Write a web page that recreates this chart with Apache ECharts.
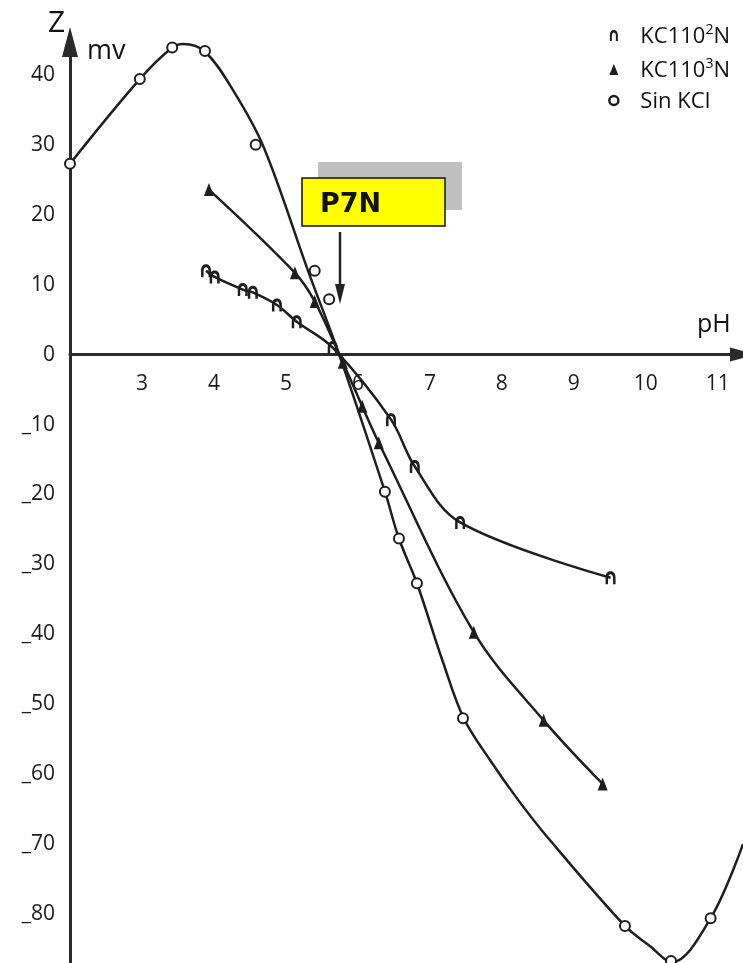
<!DOCTYPE html>
<html>
<head>
<meta charset="utf-8">
<script src="https://cdn.jsdelivr.net/npm/echarts@6/dist/echarts.min.js"></script>
<style>html,body{margin:0;padding:0;background:#fff}#c{width:743px;height:963px}</style>
</head>
<body>
<div id="c"></div>
<script>
// pH values and potentials (mV)
const phKC2 = [3.89, 4.01, 4.40, 4.54, 4.875, 5.15, 5.65, 6.46, 6.79, 7.42, 9.51];
const mvKC2 = [12.0, 11.1, 9.3, 8.9, 7.1, 4.7, 1.0, -9.3, -16.0, -24.0, -31.9];

const phKC3 = [3.93, 5.125, 5.40, 5.79, 6.06, 6.29, 7.61, 8.58, 9.40];
const mvKC3 = [23.6, 11.7, 7.6, -1.1, -7.4, -12.6, -39.7, -52.3, -61.4];

// Sin KCl: measured points (circles)
const phSin = [2.0, 2.97, 3.42, 3.875, 4.58, 5.40, 5.60, 6.375, 6.57, 6.82, 7.46, 9.71, 10.35, 10.90];
const mvSin = [27.3, 39.4, 43.9, 43.4, 30.0, 12.0, 7.9, -19.6, -26.3, -32.7, -52.0, -81.7, -86.7, -80.6];
// Sin KCl: fitted curve as drawn in the figure
const phSinCurve = [2.0, 2.97, 3.42, 3.57, 3.875, 4.26, 4.69, 5.31, 5.74, 6.375, 6.57, 6.82, 7.17, 7.47, 7.83, 8.22, 8.625, 9.71, 10.06, 10.36, 10.90, 11.35];
const mvSinCurve = [27.3, 39.4, 43.9, 44.4, 43.3, 37.9, 29.7, 11.9, 0.0, -19.6, -26.3, -32.7, -43.6, -52.0, -57.9, -63.6, -68.9, -81.7, -84.6, -86.9, -80.6, -70.0];

const seriesNames = ['KC110^2N', 'KC110^3N', 'Sin KCI'];
const xTicks = [3, 4, 5, 6, 7, 8, 9, 10, 11];
const yTicks = [40, 30, 20, 10, 0, -10, -20, -30, -40, -50, -60, -70, -80];

const archPath = 'path://M0,22 L0,11 C0,3 4,0 8,0 C12,0 16,3 16,11 L16,22 L12,22 L12,12 C12,7 10,5 8,5 C6,5 4,7 4,12 L4,22 Z';
const ink = '#1e1e1e';
const FONT = '"Open Sans", "Noto Sans", sans-serif';

const W = 743, H = 963;
const gridTop = 42, gridBottom = -21, gridLeft = 70;
const xMin = 2, xMax = 11.35, yMin = -90, yMax = 44.7;
const gridH = H - gridTop - gridBottom;
const zeroOffset = -(0 - yMin) / (yMax - yMin) * gridH; // place the pH axis at mv = 0

function pairs(xs, ys) { return xs.map((x, i) => [x, ys[i]]); }

const chart = echarts.init(document.getElementById('c'), null, {renderer: 'canvas'});
chart.setOption({
  animation: false,
  backgroundColor: '#fff',
  grid: {left: gridLeft, right: 0, top: gridTop, bottom: gridBottom, outerBoundsMode: 'none', containLabel: false},
  legend: {
    orient: 'vertical', right: 8, top: 18, itemGap: 9,
    itemWidth: 9, itemHeight: 11,
    data: [
      {name: seriesNames[0], icon: archPath, itemStyle: {color: ink, borderWidth: 0}},
      {name: seriesNames[1], icon: 'triangle', itemStyle: {color: ink, borderWidth: 0}},
      {name: seriesNames[2], icon: 'circle', itemStyle: {color: '#fff', borderColor: ink, borderWidth: 2.5}}
    ],
    formatter: function (name) {
      const m = name.match(/^(.*)\^(\d)(.*)$/);
      if (m) return '{t|' + m[1] + '}{s|' + m[2] + '}{t|' + m[3] + '}';
      return '{t|' + name + '}';
    },
    textStyle: {
      padding: [0, 0, 0, 17],
      rich: {
        t: {fontSize: 22, fontFamily: FONT, color: '#111', lineHeight: 25, verticalAlign: 'bottom'},
        s: {fontSize: 14, fontFamily: FONT, color: '#111', lineHeight: 15, verticalAlign: 'top'}
      }
    }
  },
  xAxis: {
    type: 'value', min: xMin, max: xMax, interval: 1,
    position: 'bottom', offset: zeroOffset,
    axisLine: {onZero: false, symbol: ['none', 'triangle'], symbolSize: [14, 26], lineStyle: {color: '#2a2a2a', width: 3}},
    axisTick: {show: false},
    splitLine: {show: false},
    axisLabel: {
      margin: 19, fontSize: 21, fontFamily: FONT, color: '#1a1a1a',
      formatter: v => (xTicks.indexOf(v) >= 0 ? String(v) : '')
    }
  },
  yAxis: {
    type: 'value', min: yMin, max: yMax, interval: 10,
    axisLine: {show: true, onZero: false, symbol: ['none', 'triangle'], symbolSize: [16, 30], lineStyle: {color: '#2a2a2a', width: 3}},
    axisTick: {show: false},
    splitLine: {show: false},
    axisLabel: {
      margin: 15, fontSize: 21, fontFamily: FONT, color: '#1a1a1a',
      formatter: v => (yTicks.indexOf(v) >= 0 ? (v < 0 ? '_' + (-v) : String(v)) : '')
    }
  },
  series: [
    {
      name: seriesNames[0], type: 'line', smooth: 0.35,
      data: pairs(phKC2, mvKC2),
      symbol: archPath, symbolSize: [10, 13],
      lineStyle: {color: ink, width: 2.5},
      itemStyle: {color: ink}
    },
    {
      name: seriesNames[1], type: 'line', smooth: 0.35,
      data: pairs(phKC3, mvKC3),
      symbol: 'triangle', symbolSize: [10, 13],
      lineStyle: {color: ink, width: 2.5},
      itemStyle: {color: ink}
    },
    {
      name: 'Sin KCI curve', type: 'line', smooth: 0.35,
      data: pairs(phSinCurve, mvSinCurve),
      showSymbol: false, symbol: 'none',
      lineStyle: {color: ink, width: 2.5}
    },
    {
      name: seriesNames[2], type: 'scatter', z: 5,
      data: pairs(phSin, mvSin),
      symbol: 'circle', symbolSize: 10,
      itemStyle: {color: '#fff', borderColor: ink, borderWidth: 2, opacity: 1}
    }
  ],
  graphic: [
    {type: 'text', left: 48, top: 8, style: {text: 'Z', fontSize: 30, fontFamily: FONT, fill: '#111'}},
    {type: 'text', left: 87, top: 38, style: {text: 'mv', fontSize: 27, fontFamily: FONT, fill: '#111'}},
    {type: 'text', left: 697, top: 312, style: {text: 'pH', fontSize: 25, fontFamily: FONT, fill: '#111'}},
    {type: 'rect', shape: {x: 318, y: 162, width: 144, height: 48}, style: {fill: '#c0c0c0'}},
    {type: 'rect', shape: {x: 302, y: 178, width: 143, height: 48}, style: {fill: '#ffff00', stroke: '#111', lineWidth: 1.5}},
    {type: 'text', left: 320, top: 191, style: {text: 'P7N', fontSize: 27, fontWeight: 'bold', fontFamily: '"DejaVu Sans", sans-serif', fill: '#111'}},
    {type: 'line', shape: {x1: 340, y1: 232, x2: 340, y2: 290}, style: {stroke: '#222', lineWidth: 2.5}},
    {type: 'polygon', shape: {points: [[335, 284], [345, 284], [340, 304]]}, style: {fill: '#222'}}
  ]
});
</script>
</body>
</html>
